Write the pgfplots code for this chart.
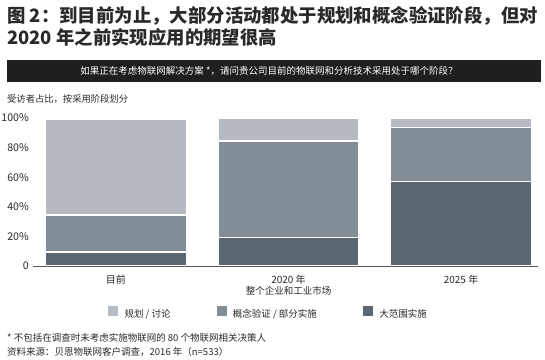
\documentclass[border=0pt]{standalone}
\usepackage{fontspec}
\setmainfont{Noto Sans CJK SC}
\usepackage{pgfplots}
\pgfplotsset{compat=1.18}
\definecolor{cL}{HTML}{B5BBC1}
\definecolor{cM}{HTML}{838D95}
\definecolor{cD}{HTML}{5B6670}
\definecolor{txt}{HTML}{2A2A2A}
\newcommand{\fs}[1]{\fontsize{#1bp}{#1bp}\selectfont}
\begin{document}
\begin{tikzpicture}
\useasboundingbox[fill=white] (0,0) rectangle (545bp,-360bp);
\node[anchor=base west, inner sep=0pt, text=txt, font=\fs{18.4}\bfseries] at (7bp,-22.5bp) {图 2：到目前为止，大部分活动都处于规划和概念验证阶段，但对};
\node[anchor=base west, inner sep=0pt, text=txt, font=\fs{18.4}\bfseries] at (7bp,-44bp) {2020 年之前实现应用的期望很高};
\fill[black!88] (7bp,-60bp) rectangle (541bp,-82bp);
\node[anchor=base, inner sep=0pt, text=white, font=\fs{9.5}] at (269bp,-74.6bp) {如果正在考虑物联网解决方案 *，请问贵公司目前的物联网和分析技术采用处于哪个阶段？};
\node[anchor=base west, inner sep=0pt, text=txt, font=\fs{9.3}] at (7bp,-102.8bp) {受访者占比，按采用阶段划分};
\begin{axis}[
  at={(33bp,-266bp)}, anchor=south west,
  scale only axis, width=505bp, height=148bp,
  xmin=-0.481, xmax=2.446, ymin=0, ymax=100,
  ybar stacked, bar width=141bp,
  clip=false, axis on top,
  axis x line=bottom, axis y line=left,
  axis line style={-},
  x axis line style={draw=black!65, line width=0.8bp},
  y axis line style={draw=none},
  major tick length=0pt, tick style={draw=none},
  xtick={0,1,2}, xticklabels={目前,2020 年,2025 年},
  ytick={0,20,40,60,80,100}, yticklabels={0,20\%,40\%,60\%,80\%,100\%},
  xticklabel style={font=\fs{10}, text=txt, inner sep=0pt, anchor=north, yshift=-8.6bp},
  yticklabel style={font=\fs{10.6}, text=txt, inner sep=0pt, anchor=east, xshift=-4bp},
  sq/.style={legend image code/.code={\fill[#1] (0bp,-1bp) rectangle (9bp,8bp);}},
  legend style={at={(0.1485,-0.3155)}, anchor=west, draw=none, fill=none, inner sep=0pt,
    nodes={inner sep=0pt, font=\fs{9.5}, text=txt},
    /tikz/every odd column/.append style={column sep=7bp},
    /tikz/every even column/.append style={column sep=46bp}},
  legend columns=3,
]
\addlegendimage{sq=cL}
\addlegendentry{规划 / 讨论}
\addlegendimage{sq=cM}
\addlegendentry{概念验证 / 部分实施}
\addlegendimage{sq=cD}
\addlegendentry{大范围实施}
\addplot[fill=cD, draw=white, line width=1.2bp, forget plot] coordinates {(0,9.5) (1,19) (2,57)};
\addplot[fill=cM, draw=white, line width=1.2bp, forget plot] coordinates {(0,25) (1,65.5) (2,36.5)};
\addplot[fill=cL, draw=white, line width=1.2bp, forget plot] coordinates {(0,64.5) (1,15) (2,6)};
\node[font=\fs{9.5}, text=txt, inner sep=0pt] at (axis cs:1,0) [yshift=-24.7bp] {整个企业和工业市场};
\end{axis}
\node[anchor=base west, inner sep=0pt, text=txt, font=\fs{9.5}] at (7bp,-341.3bp) {* 不包括在调查时未考虑实施物联网的 80 个物联网相关决策人};
\node[anchor=base west, inner sep=0pt, text=txt, font=\fs{9.5}] at (7bp,-355.3bp) {资料来源：贝恩物联网客户调查，2016 年（n=533）};
\end{tikzpicture}
\end{document}
